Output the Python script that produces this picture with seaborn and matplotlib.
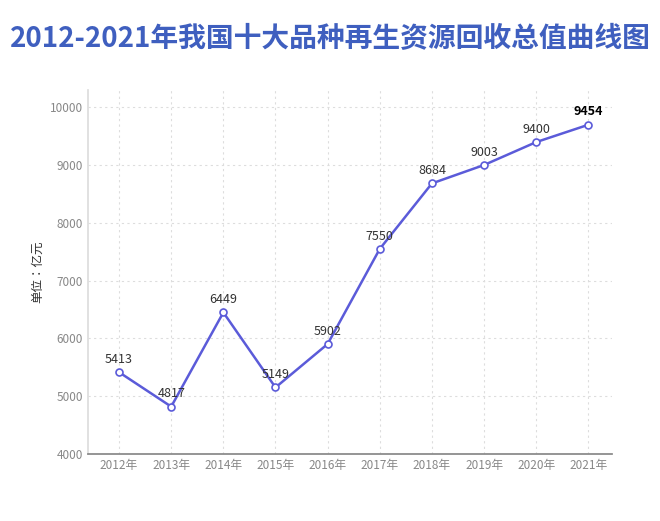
import matplotlib
matplotlib.use("Agg")
import matplotlib.pyplot as plt
import seaborn as sns
import pandas as pd

sns.set(rc={'axes.facecolor': 'white', 'figure.facecolor': 'white', 'axes.grid': False})
plt.rcParams['font.family'] = 'sans-serif'
plt.rcParams['font.sans-serif'] = ['Noto Sans CJK SC', 'Noto Sans CJK JP', 'Noto Sans CJK TC',
                                   'Noto Sans CJK KR', 'DejaVu Sans']

years = ['2012年', '2013年', '2014年', '2015年', '2016年', '2017年', '2018年', '2019年', '2020年', '2021年']
# position as drawn in the picture (last point sits above its label value)
values = [5413, 4817, 6449, 5149, 5902, 7550, 8684, 9003, 9400, 9700]
labels = ['5413', '4817', '6449', '5149', '5902', '7550', '8684', '9003', '9400', '9454']
yticks = [4000, 5000, 6000, 7000, 8000, 9000, 10000]

df = pd.DataFrame({'x': range(len(years)), 'y': values})

fig = plt.figure(figsize=(6.6, 5.21), dpi=100)
ax = fig.add_axes([0.133, 0.129, 0.794, 0.698])

sns.lineplot(data=df, x='x', y='y', ax=ax, color='#5b5bd9', lw=1.8,
             marker='o', markersize=5, markerfacecolor='white',
             markeredgecolor='#5b5bd9', markeredgewidth=1.2)

for i, (v, t) in enumerate(zip(values, labels)):
    last = i == len(values) - 1
    ax.text(i, v + 110, t, ha='center', va='bottom', fontsize=9,
            color='black' if last else '#333333',
            fontweight='bold' if last else 'normal')

ax.set_xlim(-0.6, 9.45)
ax.set_ylim(4000, 10300)
ax.set_xticks(range(len(years)))
ax.set_xticklabels(years, fontsize=8.5, color='#888888')
ax.set_yticks(yticks)
ax.set_yticklabels([str(t) for t in yticks], fontsize=8.5, color='#888888')
ax.set_xlabel('')
ax.set_ylabel('单位：亿元', fontsize=9, color='#333333')
ax.grid(True, ls=(0, (2, 3)), color='#dddddd', lw=0.8)

for s in ['top', 'right']:
    ax.spines[s].set_visible(False)
ax.spines['left'].set_color('#dddddd')
ax.spines['bottom'].set_color('#888888')
ax.tick_params(axis='both', length=0)

fig.text(0.5, 0.925, '2012-2021年我国十大品种再生资源回收总值曲线图', ha='center', va='center',
         fontsize=20, fontweight='bold', color='#3f5fbf')

fig.savefig('out.png', dpi=100)
